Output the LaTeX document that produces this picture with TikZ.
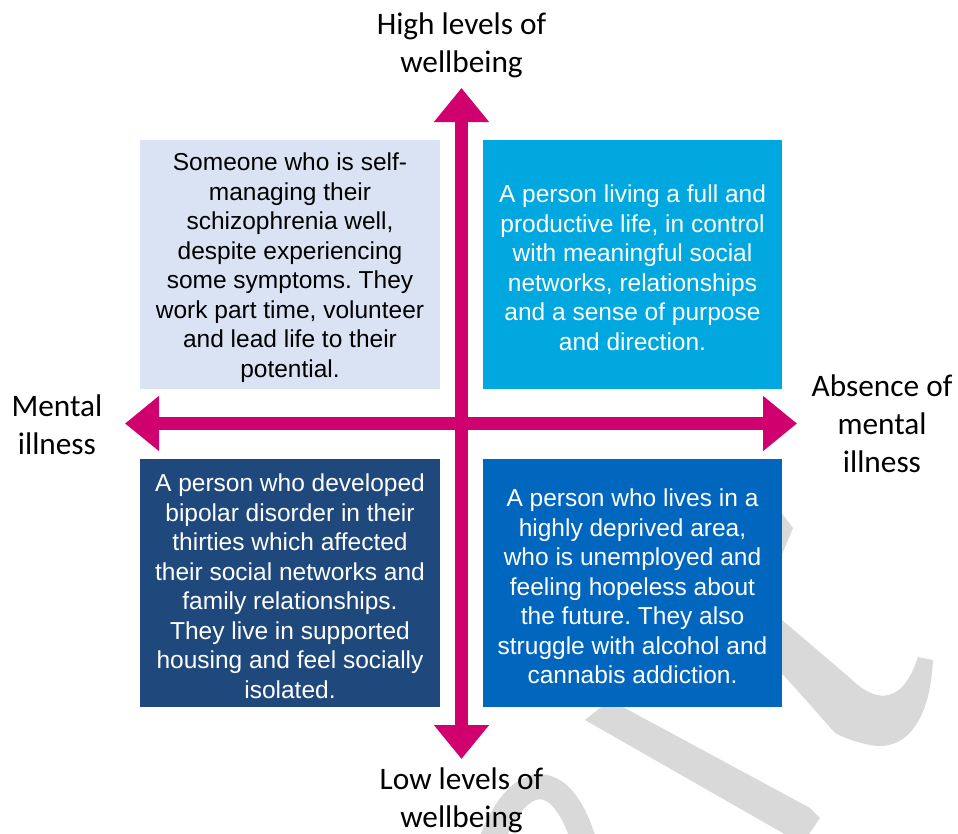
\documentclass[tikz,border=0pt]{standalone}
\usepackage{fontspec}
\setmainfont{Liberation Sans}
\newfontfamily\labelfont{Carlito}
\usetikzlibrary{arrows.meta}
\frenchspacing
\definecolor{pale}{HTML}{DAE3F3}
\definecolor{cyanbox}{HTML}{00A8DF}
\definecolor{navybox}{HTML}{1F497D}
\definecolor{bluebox}{HTML}{0066BE}
\definecolor{axiscol}{HTML}{D0006F}
\definecolor{wmark}{HTML}{D9D9D9}
\tikzset{
  quadbox/.style={minimum width=300pt, minimum height=249pt, inner sep=0pt, align=center,
    font=\fontsize{24.5}{29.5}\selectfont},
  axislabel/.style={align=center, inner sep=0pt, font=\labelfont\fontsize{31.3}{38}\selectfont},
  axisline/.style={draw=axiscol, line width=13pt,
    {Triangle[length=34pt,width=53pt]}-{Triangle[length=34pt,width=53pt]}},
  wm/.style={fill=wmark, draw=none}
}
\newcommand{\topstrut}{\rule{0pt}{24.5pt}}
\begin{document}
\begin{tikzpicture}[x=1pt,y={(0pt,-1pt)}]
\useasboundingbox (0,0) rectangle (958,833);
\fill[white] (0,0) rectangle (958,833);
% watermark fragments
\begin{scope}
\clip (0,0) rectangle (958,833);
\fill[wm] (745,560) -- (770,583) -- (793,528) -- (776,506) -- cycle;
\fill[wm] (752,596) -- (782,620) -- (850,678)
  .. controls (870,698) and (900,712) .. (918,657)
  -- (933,660)
  .. controls (930,722) and (905,752) .. (870,745)
  .. controls (855,742) and (845,738) .. (835,733)
  -- (797,690) -- (760,650) -- cycle;
\fill[wm] (585,720) -- (610,700) -- (810,808) -- (820,818) -- (805,840) -- (795,840) -- cycle;
\draw[wmark, line width=25pt] (490,845) .. controls (515,775) and (560,760) .. (585,845);
\end{scope}
% quadrant boxes
\node[quadbox, fill=pale, text=black] (tl) at (290,264.5)
  {\topstrut Someone who is self-\\managing their\\schizophrenia well,\\despite experiencing\\some symptoms. They\\work part time, volunteer\\and lead life to their\\potential.};
\node[quadbox, fill=cyanbox, text=white, minimum width=299pt] (tr) at (632.5,264.5)
  {\topstrut A person living a full and\\productive life, in control\\with meaningful social\\networks, relationships\\and a sense of purpose\\and direction.};
\node[quadbox, fill=navybox, text=white, minimum height=248pt] (bl) at (290,583)
  {\topstrut A person who developed\\bipolar disorder in their\\thirties which affected\\their social networks and\\family relationships.\\They live in supported\\housing and feel socially\\isolated.};
\node[quadbox, fill=bluebox, text=white, minimum width=299pt, minimum height=248pt] (br) at (632.5,583)
  {\topstrut A person who lives in a\\highly deprived area,\\who is unemployed and\\feeling hopeless about\\the future. They also\\struggle with alcohol and\\cannabis addiction.};
% axes
\coordinate (top) at (461.5,88);
\coordinate (bottom) at (461.5,759);
\coordinate (left) at (125,423.5);
\coordinate (right) at (797,423.5);
\draw[axisline] (left) -- (right);
\draw[axisline] (bottom) -- (top);
% axis labels
\node[axislabel] (hi) at (461.5,45) {High levels of\\wellbeing};
\node[axislabel] (lo) at (461.5,800) {Low levels of\\wellbeing};
\node[axislabel] (mi) at (57,425) {Mental\\illness};
\node[axislabel] (ab) at (882,424) {Absence of\\mental\\illness};
\end{tikzpicture}
\end{document}
